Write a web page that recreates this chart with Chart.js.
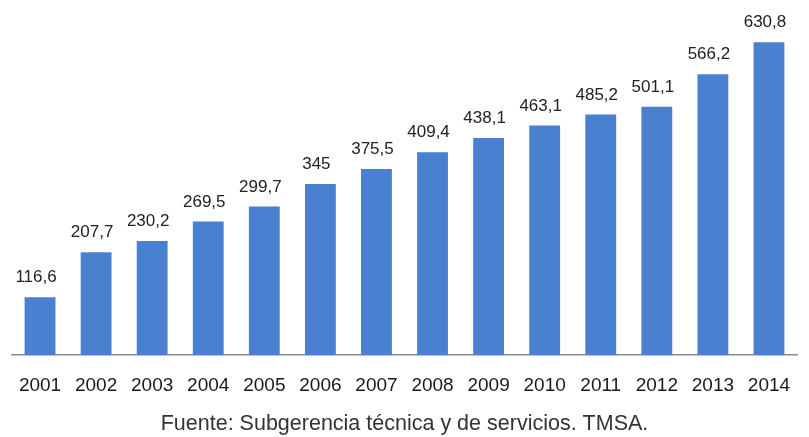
<!DOCTYPE html>
<html lang="es">
<head>
<meta charset="utf-8">
<title>Pasajeros TMSA 2001-2014</title>
<script src="https://cdn.jsdelivr.net/npm/chart.js@4"></script>
<style>
    html, body { margin: 0; padding: 0; background: #fff; }
    .chart-box { width: 809px; height: 437px; position: relative; }
</style>
</head>
<body>
<div class="chart-box"><canvas id="tmsaChart"></canvas></div>
<script>
// Años y valores anuales
const years = ['2001', '2002', '2003', '2004', '2005', '2006', '2007',
               '2008', '2009', '2010', '2011', '2012', '2013', '2014'];
const values = [116.6, 207.7, 230.2, 269.5, 299.7, 345, 375.5,
                409.4, 438.1, 463.1, 485.2, 501.1, 566.2, 630.8];
const source = 'Fuente: Subgerencia técnica y de servicios. TMSA.';

const FONT = '"Liberation Sans", Arial, sans-serif';

// Etiquetas de valor sobre cada barra (coma decimal)
const valueLabels = {
    id: 'valueLabels',
    afterDatasetsDraw(chart) {
        const ctx = chart.ctx;
        const meta = chart.getDatasetMeta(0);
        ctx.save();
        ctx.font = '17px ' + FONT;
        ctx.fillStyle = '#222';
        ctx.textAlign = 'center';
        ctx.textBaseline = 'alphabetic';
        meta.data.forEach((bar, i) => {
            const txt = String(chart.data.datasets[0].data[i]).replace('.', ',');
            ctx.fillText(txt, bar.x - 4, bar.y - 15);
        });
        ctx.restore();
    }
};

// Nota de fuente al pie, centrada
const sourceNote = {
    id: 'sourceNote',
    afterDraw(chart) {
        const ctx = chart.ctx;
        ctx.save();
        ctx.font = '21.5px ' + FONT;
        ctx.fillStyle = '#333';
        ctx.textAlign = 'center';
        ctx.textBaseline = 'alphabetic';
        ctx.fillText(source, chart.width / 2, chart.height - 7);
        ctx.restore();
    }
};

document.addEventListener('DOMContentLoaded', function() {
    const ctx = document.getElementById('tmsaChart').getContext('2d');
    new Chart(ctx, {
        type: 'bar',
        data: {
            labels: years,
            datasets: [{
                data: values,
                backgroundColor: '#4a80d0',
                barPercentage: 0.55,
                categoryPercentage: 1.0
            }]
        },
        options: {
            responsive: true,
            maintainAspectRatio: false,
            animation: false,
            layout: {
                padding: { top: 8, left: 9, right: 0, bottom: 21 }
            },
            scales: {
                x: {
                    grid: { display: false, drawTicks: false },
                    border: { display: true, color: '#8c8c8c', width: 1.5 },
                    ticks: {
                        color: '#1a1a1a',
                        padding: 19,
                        font: { family: FONT, size: 19 }
                    }
                },
                y: {
                    display: false,
                    min: 0,
                    max: 700
                }
            },
            plugins: {
                legend: { display: false },
                tooltip: { enabled: false }
            }
        },
        plugins: [valueLabels, sourceNote]
    });
});
</script>
</body>
</html>
